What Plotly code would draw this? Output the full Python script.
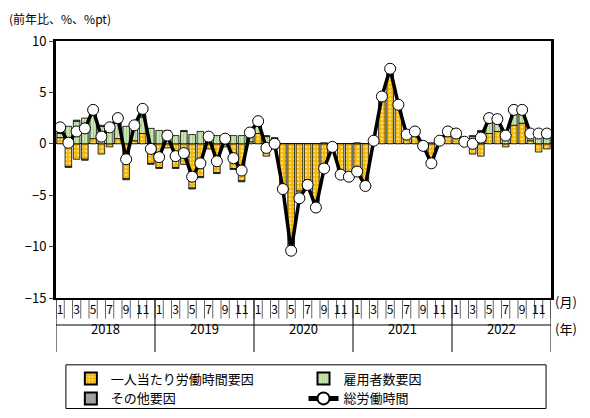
import plotly.graph_objects as go

years = ["2018", "2019", "2020", "2021", "2022"]
months = list(range(1, 13))

per_person = [0.6, -2.2, -1.5, -1.5, 0.5, -1.0, -0.3, 0.5, -3.4, 0.3, 1.0, -1.9,
              -2.3, -0.4, -2.3, -2.0, -4.3, -3.2, -0.5, -2.8, -0.3, -2.4, -3.6, 0.2,
              1.0, -1.2, -0.5, -4.0, -9.7, -4.6, -3.5, -5.5, -2.0, -0.2, -2.8, -3.0,
              -2.6, -3.9, 0.3, 4.5, 7.1, 3.6, 0.8, 1.0, -0.3, -1.8, 0.2, 1.0,
              0.6, -0.2, -1.0, -1.2, 1.0, 1.2, -0.3, 1.8, 2.0, 0.3, -0.8, -0.5]
employment = [0.4, 1.7, 2.2, 2.5, 2.8, 1.7, 1.6, 1.5, 1.7, 1.6, 1.6, 1.5,
              1.3, 1.2, 0.8, 1.2, 0.9, 1.2, 1.0, 0.8, 0.6, 0.8, 0.8, 0.9,
              1.0, 0.7, 0.5, -0.3, -0.6, -0.7, -0.5, -0.6, -0.4, -0.1, -0.2, -0.2,
              -0.1, -0.2, 0.0, 0.1, 0.2, 0.2, 0.1, 0.2, 0.1, 0.1, 0.2, 0.3,
              0.5, 0.5, 0.7, 1.2, 1.5, 1.2, 1.0, 1.5, 1.3, 0.8, 0.8, 0.7]
other = [0.1, -0.1, 0.1, -0.1, 0.1, 0.1, 0.1, 0.2, -0.1, 0.1, 0.2, -0.1,
         -0.1, 0.1, -0.1, 0.1, -0.1, -0.1, 0.1, -0.1, 0.1, -0.1, -0.1, 0.1,
         0.1, 0.1, 0.1, -0.1, -0.1, -0.1, -0.1, -0.1, 0.1, 0.1, -0.1, -0.1,
         0.1, -0.1, 0.1, 0.1, 0.1, 0.1, 0.1, 0.1, -0.1, -0.1, 0.1, 0.1,
         0.1, 0.1, 0.1, 0.1, 0.1, 0.1, 0.1, 0.1, 0.1, 0.1, 0.1, 0.1]
total = [1.6, 0.1, 1.2, 1.5, 3.3, 0.7, 1.6, 2.5, -1.5, 1.8, 3.4, -0.5,
         -1.3, 0.8, -1.2, -0.9, -3.2, -1.9, 0.7, -1.7, 0.5, -1.4, -2.6, 1.1,
         2.2, -0.4, 0.0, -4.4, -10.4, -5.3, -4.0, -6.2, -2.4, -0.3, -3.0, -3.2,
         -2.7, -4.1, 0.3, 4.6, 7.3, 3.8, 0.9, 1.2, -0.2, -1.9, 0.3, 1.2,
         1.0, 0.2, 0.0, 0.6, 2.5, 2.4, 0.8, 3.3, 3.3, 1.0, 1.0, 1.0]

x = list(range(len(total)))
tickvals = [i for i in x if i % 2 == 0]
ticktext = [str(months[i % 12]) for i in tickvals]
font = "Noto Sans CJK JP"

fig = go.Figure()
fig.add_trace(go.Bar(
    x=x, y=per_person, name="一人当たり労働時間要因", legend="legend",
    marker=dict(color="#f5b800", line=dict(color="black", width=0.8),
                pattern=dict(shape=".", fgcolor="white", bgcolor="#f5b800", size=4, solidity=0.35))))
fig.add_trace(go.Bar(
    x=x, y=employment, name="雇用者数要因", legend="legend2",
    marker=dict(color="#6cb33a", line=dict(color="black", width=0.8),
                pattern=dict(shape="|", fgcolor="#6cb33a", bgcolor="#e8f3dc", size=3, solidity=0.65))))
fig.add_trace(go.Bar(
    x=x, y=other, name="その他要因", legend="legend",
    marker=dict(color="#a0a0a0", line=dict(color="black", width=0.8))))
fig.add_trace(go.Scatter(
    x=x, y=total, name="総労働時間", mode="lines+markers", legend="legend2",
    line=dict(color="black", width=3.5),
    marker=dict(size=11, color="white", line=dict(color="black", width=1))))

# month tick separators, year separators and labels
shapes = []
for i in range(61):
    shapes.append(dict(type="line", xref="x", yref="paper", x0=i - 0.5, x1=i - 0.5,
                       y0=0, y1=-0.08, line=dict(color="black", width=0.6)))
for k, yr in enumerate(years):
    shapes.append(dict(type="line", xref="x", yref="paper", x0=12 * k - 0.5, x1=12 * k - 0.5,
                       y0=0, y1=-0.21, line=dict(color="black", width=1)))
    fig.add_annotation(x=12 * k + 5.5, y=-0.165, xref="x", yref="paper", text=yr,
                       showarrow=False, font=dict(size=13, family=font))
shapes.append(dict(type="line", xref="x", yref="paper", x0=59.5, x1=59.5,
                   y0=0, y1=-0.21, line=dict(color="black", width=1)))
shapes.append(dict(type="line", xref="x", yref="paper", x0=-0.5, x1=59.5,
                   y0=-0.105, y1=-0.105, line=dict(color="black", width=1)))
# legend frame
shapes.append(dict(type="rect", xref="paper", yref="paper", x0=0.02, x1=0.99,
                   y0=-0.43, y1=-0.26, line=dict(color="black", width=1)))

fig.add_annotation(x=-0.1, y=1.13, xref="paper", yref="paper", xanchor="left", text="(前年比、%、%pt)",
                   showarrow=False, font=dict(size=12, family=font))
fig.add_annotation(x=1.005, y=-0.06, xref="paper", yref="paper", xanchor="left", text="(月)",
                   showarrow=False, font=dict(size=13, family=font))
fig.add_annotation(x=1.005, y=-0.165, xref="paper", yref="paper", xanchor="left", text="(年)",
                   showarrow=False, font=dict(size=13, family=font))

fig.update_layout(
    width=590, height=418, barmode="relative", bargap=0.2,
    plot_bgcolor="white", paper_bgcolor="white",
    margin=dict(l=48, r=47, t=33, b=122),
    font=dict(family=font, size=13, color="black"),
    shapes=shapes,
    xaxis=dict(range=[-0.5, 59.5], tickvals=tickvals, ticktext=ticktext, showgrid=False,
               showline=True, mirror=True, linecolor="black", linewidth=2,
               ticks="", tickfont=dict(size=12)),
    yaxis=dict(range=[-15, 10], dtick=5, showgrid=False, zeroline=True, zerolinecolor="black",
               zerolinewidth=1, showline=True, mirror=True, linecolor="black", linewidth=3,
               ticks="outside", ticklen=4),
    legend=dict(x=0.03, y=-0.255, xanchor="left", yanchor="top", bgcolor="rgba(0,0,0,0)",
                font=dict(size=13), tracegroupgap=0, itemsizing="constant"),
    legend2=dict(x=0.5, y=-0.255, xanchor="left", yanchor="top", bgcolor="rgba(0,0,0,0)",
                 font=dict(size=13), tracegroupgap=0, itemsizing="constant"),
)

fig.write_html("out.html")
